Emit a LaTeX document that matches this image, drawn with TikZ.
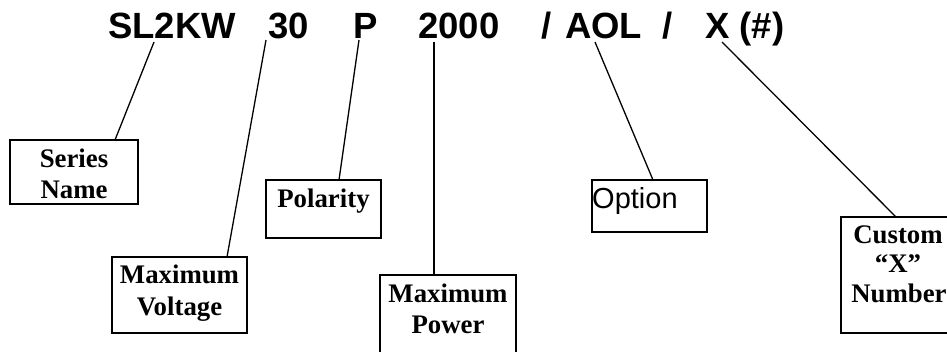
\documentclass[tikz,border=0pt]{standalone}
\usepackage{fontspec}
\setmainfont{Liberation Serif}
\newfontfamily\arialf{Liberation Sans}
\begin{document}
\begin{tikzpicture}[x=1pt,y=-1pt,
  title/.style={font=\arialf\bfseries\fontsize{36.5}{40}\selectfont, inner sep=0pt, anchor=base west},
  lbl/.style={font=\bfseries\fontsize{26.8}{30}\selectfont, inner sep=0pt, anchor=base},
  box/.style={draw, line width=1.7pt},
  conn/.style={line width=1.3pt}]
\useasboundingbox (0,0) rectangle (947,351);
\clip (0,0) rectangle (947,351);
% title pieces
\node[title] (tsl) at (108,38) {SL2KW};
\node[title] (t30) at (268,38) {30};
\node[title] (tp) at (353,38) {P};
\node[title] (t2000) at (418,38) {2000};
\node[title] (tsa) at (541,38) {/};
\node[title] (taol) at (565,38) {AOL};
\node[title] (tsb) at (662,38) {/};
\node[title] (tx) at (705,38) {X (\#)};
% boxes
\node[box, minimum width=128pt, minimum height=64pt, inner sep=0pt] (bseries) at (74,172) {};
\node[box, minimum width=135pt, minimum height=76pt, inner sep=0pt] (bvolt) at (179.5,295) {};
\node[box, minimum width=115pt, minimum height=58pt, inner sep=0pt] (bpol) at (323.5,209) {};
\node[box, minimum width=136pt, minimum height=100pt, inner sep=0pt] (bpow) at (448,325) {};
\node[box, minimum width=115pt, minimum height=52pt, inner sep=0pt] (bopt) at (649.5,206) {};
\node[box, minimum width=120pt, minimum height=116pt, inner sep=0pt] (bcus) at (901,275) {};
% labels
\node[lbl] (lseries1) at (74,167) {Series};
\node[lbl] (lseries2) at (74,198) {Name};
\node[lbl] (lvolt1) at (179.5,283) {Maximum};
\node[lbl] (lvolt2) at (179.5,315) {Voltage};
\node[lbl] (lpol) at (323.5,207) {Polarity};
\node[lbl] (lpow1) at (448,302) {Maximum};
\node[lbl] (lpow2) at (448,333) {Power};
\node[font=\arialf\fontsize{29}{34}\selectfont, inner sep=0pt, anchor=base west] (lopt) at (592,208) {Option};
\node[lbl] (lcus1) at (898,243) {Custom};
\node[lbl] (lcus2) at (898,272) {``X''};
\node[lbl] (lcus3) at (899,302) {Number};
% connector ends
\coordinate (csl) at (154,42);
\coordinate (cser) at (115,140);
\coordinate (c30) at (266,40);
\coordinate (cvolt) at (227,257);
\coordinate (cp) at (359,40);
\coordinate (cpol) at (339,180);
\coordinate (c2000) at (434,42);
\coordinate (cpow) at (434,275);
\coordinate (caol) at (595,42);
\coordinate (copt) at (653,180);
\coordinate (cx) at (722,42);
\coordinate (ccus) at (896,217);
\draw[conn] (csl) -- (cser);
\draw[conn] (c30) -- (cvolt);
\draw[conn] (cp) -- (cpol);
\draw[conn] (c2000) -- (cpow);
\draw[conn] (caol) -- (copt);
\draw[conn] (cx) -- (ccus);
\end{tikzpicture}
\end{document}
